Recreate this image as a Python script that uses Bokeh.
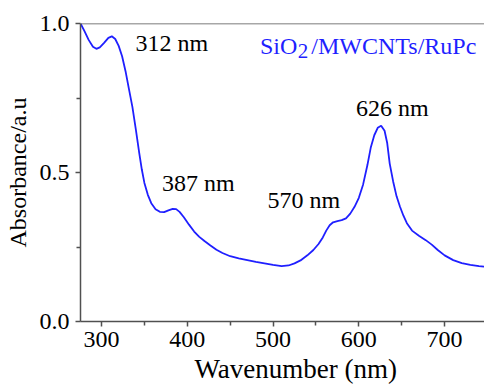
from bokeh.plotting import figure
from bokeh.models import Range1d, FixedTicker, Span, Label, Title, CustomJSTickFormatter
from bokeh.embed import file_html
from bokeh.resources import INLINE

# --- data ---
wavelength = [275.5, 280, 285, 290, 294, 298, 303, 308, 312, 316, 320, 324, 328, 332, 336,
              340, 344, 347, 350, 354, 358, 363, 368, 373, 378, 383, 387, 391, 396, 402,
              408, 414, 420, 427, 434, 441, 450, 460, 470, 480, 490, 500, 510, 518, 525,
              532, 540, 547, 553, 558, 562, 566, 570, 575, 580, 585, 590, 595, 600, 605,
              610, 614, 618, 622, 626, 630, 633, 636, 640, 644, 648, 652, 656, 662, 670,
              678, 685, 692, 700, 710, 720, 730, 740, 746]
absorbance = [1.000, 0.975, 0.945, 0.922, 0.915, 0.920, 0.935, 0.952, 0.957, 0.948, 0.925,
              0.890, 0.840, 0.780, 0.720, 0.645, 0.565, 0.510, 0.465, 0.425, 0.397, 0.377,
              0.368, 0.367, 0.373, 0.378, 0.377, 0.368, 0.350, 0.325, 0.302, 0.284, 0.270,
              0.255, 0.241, 0.230, 0.219, 0.212, 0.206, 0.200, 0.195, 0.190, 0.186, 0.188,
              0.195, 0.205, 0.222, 0.240, 0.260, 0.282, 0.305, 0.323, 0.333, 0.337, 0.340,
              0.346, 0.362, 0.385, 0.415, 0.460, 0.525, 0.585, 0.625, 0.650, 0.657, 0.640,
              0.600, 0.530, 0.470, 0.420, 0.385, 0.355, 0.330, 0.305, 0.288, 0.273, 0.258,
              0.240, 0.222, 0.206, 0.196, 0.190, 0.186, 0.184]

peak_labels = ["312 nm", "387 nm", "570 nm", "626 nm"]
peak_label_x = [382, 413, 536, 639]
peak_label_y = [0.933, 0.465, 0.408, 0.717]

x_ticks = [300, 400, 500, 600, 700]
x_minor = [250, 350, 450, 550, 650, 750]
y_ticks = [0.0, 0.5, 1.0]
y_minor = [0.25, 0.75]

series_parts = ["SiO", "2", "/MWCNTs/RuPc"]   # "2" is a subscript
x_title = "Wavenumber (nm)"
y_title = "Absorbance/a.u"

FONT = "Liberation Serif"
BLUE = "#1f1fff"
AXIS = "#505050"

p = figure(width=484, height=385, output_backend="svg", toolbar_location=None,
           x_range=Range1d(275.5, 746.5), y_range=Range1d(0, 1.0),
           min_border_left=80, min_border_right=0, min_border_top=23, min_border_bottom=63)

p.background_fill_color = "white"
p.border_fill_color = "white"
p.outline_line_color = None
p.grid.visible = False

p.line(wavelength, absorbance, line_color=BLUE, line_width=1.8)

# top frame line
p.add_layout(Span(location=1.0, dimension="width", line_color=AXIS, line_width=1.5))

for t, x, y in zip(peak_labels, peak_label_x, peak_label_y):
    p.add_layout(Label(x=x, y=y, text=t, text_align="center", text_baseline="middle",
                       text_font=FONT, text_font_size="24px", text_color="black"))

# series name: SiO + subscript 2 + /MWCNTs/RuPc, right-aligned at the same anchor
name_x, name_y = 737, 0.925
p.add_layout(Label(x=name_x, y=name_y, text=series_parts[2], text_align="right",
                   text_baseline="middle", text_font=FONT, text_font_size="24px",
                   text_color=BLUE))
p.add_layout(Label(x=name_x, y=name_y, text=series_parts[1], text_align="right",
                   x_offset=-168, y_offset=-5,
                   text_baseline="middle", text_font=FONT, text_font_size="21px",
                   text_color=BLUE))
p.add_layout(Label(x=name_x, y=name_y, text=series_parts[0], text_align="right",
                   x_offset=-179,
                   text_baseline="middle", text_font=FONT, text_font_size="24px",
                   text_color=BLUE))

# axes
for ax in (p.xaxis[0], p.yaxis[0]):
    ax.axis_line_color = AXIS
    ax.axis_line_width = 1.5
    ax.major_tick_line_color = AXIS
    ax.minor_tick_line_color = AXIS
    ax.major_tick_line_width = 1.5
    ax.minor_tick_line_width = 1.5
    ax.major_tick_in = 0
    ax.minor_tick_in = 0
    ax.major_tick_out = 5
    ax.minor_tick_out = 4
    ax.major_label_text_font = FONT
    ax.major_label_text_font_size = "24px"
    ax.major_label_text_color = "black"
    ax.axis_label_text_font = FONT
    ax.axis_label_text_font_size = "24px"
    ax.axis_label_text_font_style = "normal"
    ax.axis_label_text_color = "black"

p.xaxis.ticker = FixedTicker(ticks=x_ticks, minor_ticks=x_minor)
p.yaxis.ticker = FixedTicker(ticks=y_ticks, minor_ticks=y_minor)
p.yaxis.formatter = CustomJSTickFormatter(code="return tick.toFixed(1);")
p.xaxis.major_label_standoff = 5
p.yaxis.major_label_standoff = 6
p.yaxis.axis_label = y_title
p.yaxis.axis_label_standoff = 6

# x title below the axis, shifted right as in the reference
p.add_layout(Title(text=x_title, align="left", offset=114, standoff=4,
                   text_font=FONT, text_font_size="27px", text_font_style="normal",
                   text_color="black"), "below")

open("out.html", "w").write(file_html(p, INLINE))
